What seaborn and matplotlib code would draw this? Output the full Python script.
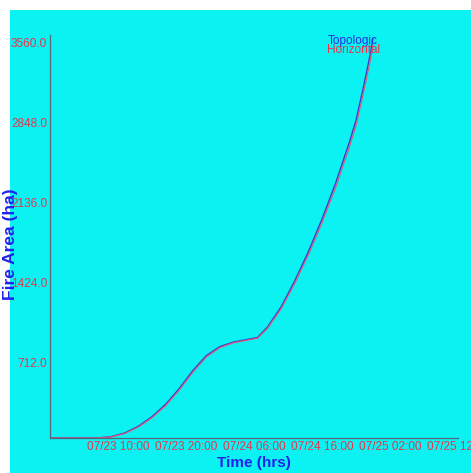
import pandas as pd
import matplotlib.pyplot as plt
import matplotlib.dates as mdates
from matplotlib.patches import Rectangle
import seaborn as sns

# data
times = ['2012-07-23 00:00', '2012-07-23 07:00', '2012-07-23 09:00', '2012-07-23 11:00',
         '2012-07-23 13:00', '2012-07-23 15:00', '2012-07-23 17:00', '2012-07-23 19:00',
         '2012-07-23 21:00', '2012-07-23 23:00', '2012-07-24 01:00', '2012-07-24 03:00',
         '2012-07-24 05:00', '2012-07-24 06:30', '2012-07-24 08:00', '2012-07-24 10:00',
         '2012-07-24 12:00', '2012-07-24 14:00', '2012-07-24 16:00', '2012-07-24 18:00',
         '2012-07-24 20:00', '2012-07-24 21:00', '2012-07-24 22:00', '2012-07-24 23:00',
         '2012-07-24 23:30']
topologic = [0, 0, 12, 45, 105, 190, 300, 440, 600, 735, 815, 855, 878, 895,
             990, 1170, 1400, 1660, 1950, 2270, 2630, 2830, 3100, 3390, 3560]
horizontal = [0, 0, 10, 40, 98, 180, 288, 426, 585, 722, 806, 848, 872, 888,
              978, 1152, 1378, 1632, 1918, 2232, 2588, 2785, 3050, 3335, 3500]
yticks = [712, 1424, 2136, 2848, 3560]
xtick_times = ['2012-07-23 10:00', '2012-07-23 20:00', '2012-07-24 06:00',
               '2012-07-24 16:00', '2012-07-25 02:00', '2012-07-25 12:00']

df = pd.DataFrame({'Time': pd.to_datetime(times), 'Topologic': topologic, 'Horizontal': horizontal})

sns.set_style('white')
plt.rcParams['font.family'] = ['Liberation Sans', 'DejaVu Sans']

cyan = '#0af2f2'
red = '#e8344a'
blue = '#2222ee'

fig = plt.figure(figsize=(4.71, 4.73), dpi=100, facecolor='white')
fig.patches.append(Rectangle((10 / 471, 0), 1, 1 - 10 / 473, transform=fig.transFigure,
                             facecolor=cyan, edgecolor='none', zorder=-10))
ax = fig.add_axes([50 / 471, 35 / 473, 408 / 471, 403 / 473])
ax.set_facecolor(cyan)

sns.lineplot(data=df, x='Time', y='Topologic', color='#3a3ad0', lw=1.0, ax=ax)
sns.lineplot(data=df, x='Time', y='Horizontal', color='#d85a7a', lw=0.9, ax=ax)

ax.set_xlim(pd.Timestamp('2012-07-23 00:00'), pd.Timestamp('2012-07-25 12:00'))
ax.set_ylim(0, 3590)
ax.set_yticks(yticks)
ax.set_yticklabels([f'{v:.1f}' for v in yticks], color=red, fontsize=8.5)
for t in ax.get_yticklabels():
    t.set_va('top')
ax.set_xticks(pd.to_datetime(xtick_times))
ax.xaxis.set_major_formatter(mdates.DateFormatter('%m/%d %H:%M'))
for t in ax.get_xticklabels():
    t.set_color(red)
    t.set_fontsize(8.5)
    t.set_clip_on(False)
ax.tick_params(axis='both', direction='in', length=3, width=0.8, color='#556677', pad=2)

for s in ['top', 'right']:
    ax.spines[s].set_visible(False)
for s in ['left', 'bottom']:
    ax.spines[s].set_color('#556677')
    ax.spines[s].set_linewidth(0.9)

ax.set_xlabel('Time (hrs)', color=blue, fontsize=11, fontweight='bold', labelpad=2)
ax.set_ylabel('Fire Area (ha)', color=blue, fontsize=12.5, fontweight='bold')
ax.yaxis.set_label_coords(-32 / 408, 0.48)

# legend drawn as text, like the original
ax.text(0.68, 0.985, 'Topologic', color='#2a2ae8', fontsize=8.5, transform=ax.transAxes, va='center')
ax.text(0.68, 0.962, 'Horizontal', color=red, fontsize=8.5, transform=ax.transAxes, va='center')

fig.savefig('out.png', dpi=100, facecolor=fig.get_facecolor())
